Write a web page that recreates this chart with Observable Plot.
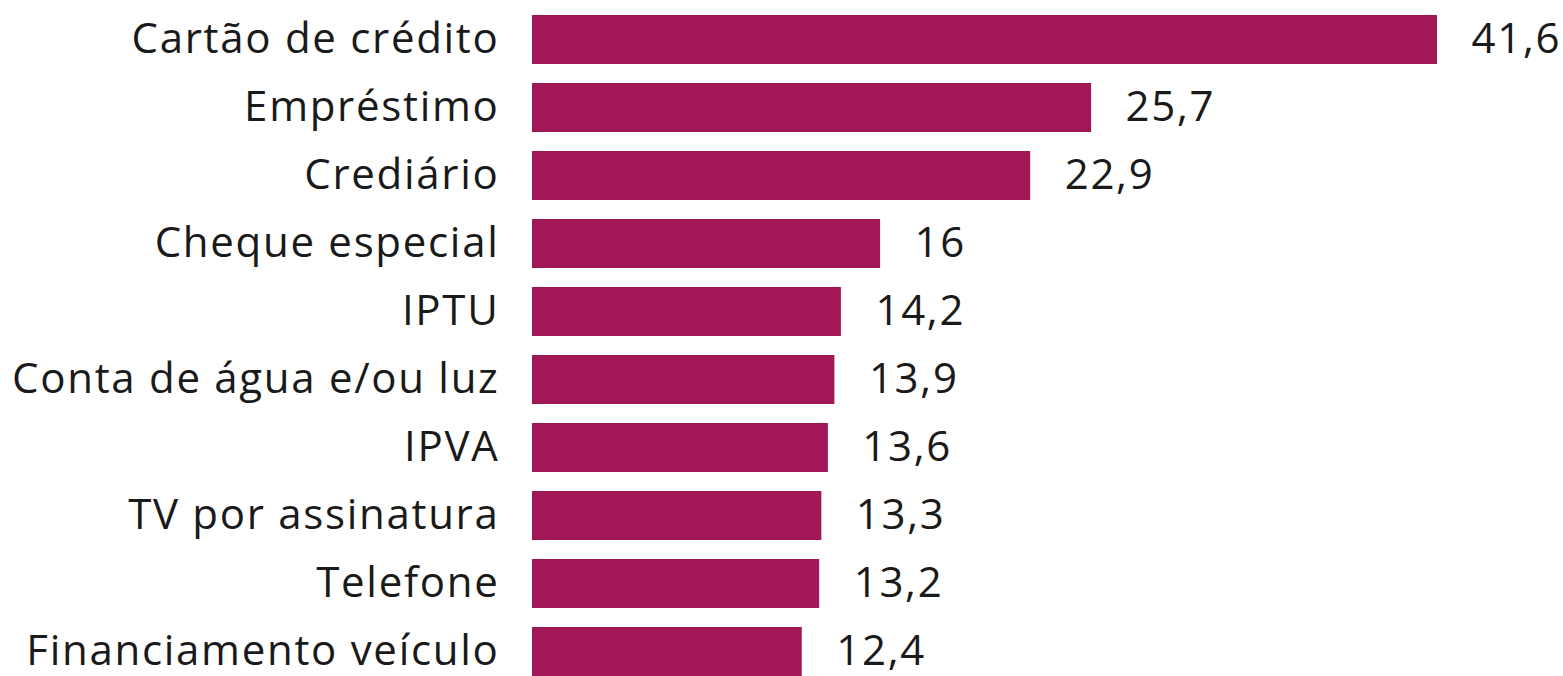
<!DOCTYPE html>
<html>
<head>
<meta charset="utf-8">
<script src="https://cdn.jsdelivr.net/npm/d3@7"></script>
<script src="https://cdn.jsdelivr.net/npm/@observablehq/plot@0.6"></script>
<style>
  html, body { margin: 0; padding: 0; background: #fff; }
  #chart svg { display: block; }
  #chart svg text { letter-spacing: 1.7px; }
</style>
</head>
<body>
<div id="chart"></div>
<script>
const categories = ["Cartão de crédito", "Empréstimo", "Crediário", "Cheque especial", "IPTU", "Conta de água e/ou luz", "IPVA", "TV por assinatura", "Telefone", "Financiamento veículo"];
const values = [41.6, 25.7, 22.9, 16, 14.2, 13.9, 13.6, 13.3, 13.2, 12.4];

const data = categories.map((c, i) => ({category: c, value: values[i]}));
const fmt = v => String(v).replace(".", ",");

const chart = Plot.plot({
  width: 1563,
  height: 676,
  marginLeft: 532,
  marginRight: 126,
  marginTop: 15,
  marginBottom: 0,
  style: {fontFamily: "'Open Sans', sans-serif", fontSize: "42px", color: "#1a1a1a", background: "#fff"},
  x: {domain: [0, 41.6], axis: null},
  y: {domain: categories, paddingInner: 0.28, paddingOuter: 0, label: null},
  marks: [
    Plot.barX(data, {x: "value", y: "category", fill: "#a21857"}),
    Plot.axisY({tickSize: 0, tickPadding: 33, fontSize: 42, label: null, fill: "#1a1a1a"}),
    Plot.text(data, {x: "value", y: "category", text: d => fmt(d.value), textAnchor: "start", dx: 34, fontSize: 42, fill: "#1a1a1a"})
  ]
});
document.getElementById("chart").appendChild(chart);
</script>
</body>
</html>
